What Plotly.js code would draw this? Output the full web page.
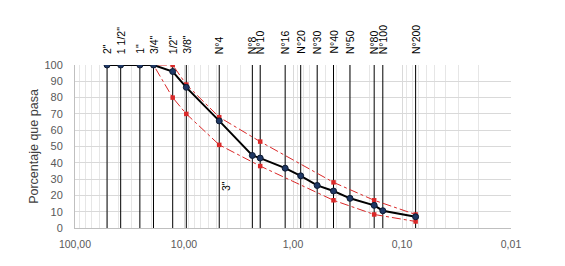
<!DOCTYPE html>
<html><head><meta charset="utf-8">
<script src="https://cdn.plot.ly/plotly-3.0.1.min.js"></script>
<style>html,body{margin:0;padding:0;background:#fff}#c{width:565px;height:266px}</style>
</head><body><div id="c"></div>
<script>
// Sieve sizes (mm) and labels
const sieveLabels = ['2"','1 1/2"','1"','3/4"','1/2"','3/8"','N°4','N°8','N°10','N°16','N°20','N°30','N°40','N°50','N°80','N°100','N°200'];
const sieveSizes  = [50.8,38.1,25.4,19.05,12.7,9.525,4.75,2.36,2.0,1.18,0.85,0.6,0.425,0.3,0.18,0.15,0.075];
// Percentage passing (sample)
const passing = [100,100,100,100,96,86.3,65.7,44.5,42.9,36.7,32,26.1,22.7,18.2,13.9,10.6,6.9];
// Specification band
const specSizes = [25.4,19.05,12.7,9.525,4.75,2.0,0.425,0.18,0.075];
const specUpper = [100,100,100,88,68,53,28,17,8.3];
const specLower = [100,100,80,70,51,38,17,8.3,4];
// stray label
const strayLabel = '3"';

const vx = [], vy = [];
sieveSizes.forEach(s => { vx.push(s, s, null); vy.push(0, 100, null); });

const red = 'rgb(218,40,40)';
const traces = [
  {x: vx, y: vy, mode: 'lines', line: {color: '#000', width: 1}, hoverinfo: 'skip', showlegend: false},
  {x: specSizes, y: specUpper, mode: 'lines+markers', line: {color: red, width: 1, dash: 'dashdot'},
   marker: {color: red, size: 4.5, symbol: 'square'}, showlegend: false},
  {x: specSizes, y: specLower, mode: 'lines+markers', line: {color: red, width: 1, dash: 'dashdot'},
   marker: {color: red, size: 4.5, symbol: 'square'}, showlegend: false},
  {x: sieveSizes, y: passing, mode: 'lines+markers', line: {color: '#000', width: 2},
   marker: {color: '#1f3864', size: 6, line: {color: '#0d1b33', width: 1}}, showlegend: false}
];

const ann = sieveLabels.map((t, i) => ({
  x: Math.log10(sieveSizes[i]), y: 100, xref: 'x', yref: 'y', text: t, showarrow: false,
  textangle: -90, xanchor: 'center', yanchor: 'bottom', yshift: 9,
  font: {family: 'Liberation Sans, Arial, sans-serif', size: 10.5, color: '#000'}
}));
ann.push({x: Math.log10(4.06), y: 25.5, xref: 'x', yref: 'y', text: strayLabel, showarrow: false,
  textangle: -90, xanchor: 'center', yanchor: 'middle',
  font: {family: 'Liberation Sans, Arial, sans-serif', size: 10.5, color: '#000'}});

const layout = {
  width: 565, height: 266,
  margin: {l: 75, r: 54, t: 65, b: 38},
  paper_bgcolor: '#fff', plot_bgcolor: '#fff',
  separators: ',.',
  showlegend: false,
  font: {family: 'Liberation Sans, Arial, sans-serif', size: 11, color: '#595959'},
  xaxis: {type: 'log', range: [2, -2], dtick: 1, tickformat: '.2f',
    showgrid: true, gridcolor: '#d9d9d9', gridwidth: 1,
    minor: {dtick: 'D1', showgrid: true, gridcolor: '#e6e6e6', ticks: ''},
    showline: true, linecolor: '#bfbfbf', linewidth: 1, mirror: false,
    zeroline: false, ticks: '', ticklabelstandoff: 6,
    tickfont: {size: 10.5, color: '#595959'}},
  yaxis: {range: [0, 100], dtick: 10, showgrid: true, gridcolor: '#d9d9d9',
    showline: true, linecolor: '#bfbfbf', zeroline: false, ticks: '', ticklabelstandoff: 9,
    tickfont: {size: 11, color: '#595959'},
    title: {text: 'Porcentaje que pasa', standoff: 3, font: {size: 12.5, color: '#404040'}}},
  annotations: ann
};
Plotly.newPlot('c', traces, layout, {staticPlot: true, displayModeBar: false});
</script></body></html>
